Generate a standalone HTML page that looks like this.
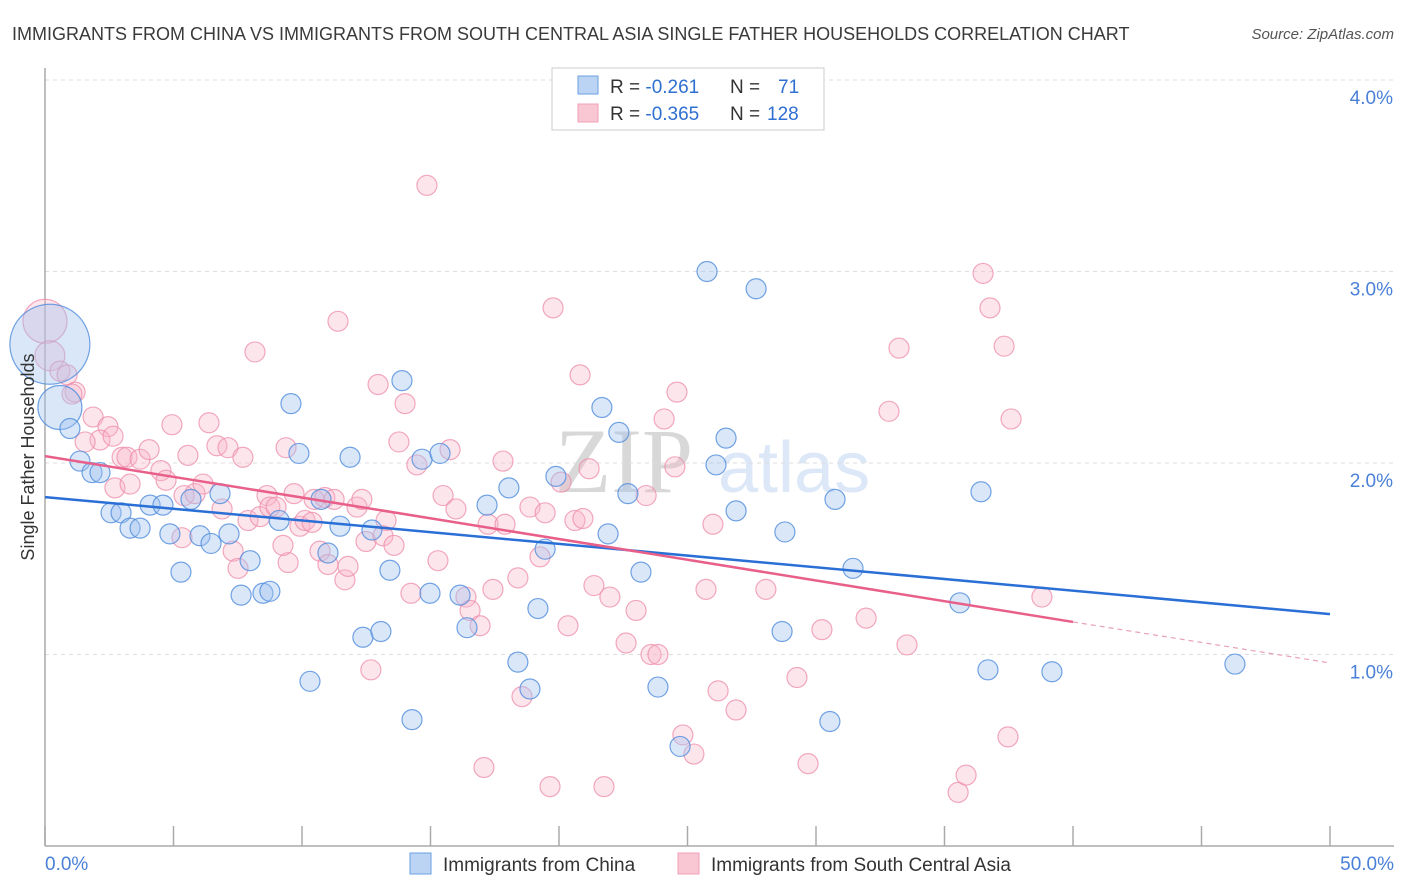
<!DOCTYPE html>
<html><head><meta charset="utf-8"><style>
body{margin:0;background:#fff;font-family:"Liberation Sans",sans-serif;}
svg{display:block}
</style></head><body>
<svg id="chart" width="1406" height="892">
<text x="12" y="40" font-size="18" fill="#3a3a3a">IMMIGRANTS FROM CHINA VS IMMIGRANTS FROM SOUTH CENTRAL ASIA SINGLE FATHER HOUSEHOLDS CORRELATION CHART</text>
<text x="1394" y="39" font-size="15" fill="#555" font-style="italic" text-anchor="end">Source: ZipAtlas.com</text>
<text x="555" y="492" font-size="92" fill="#d8d8d8" font-family="Liberation Serif,serif">ZIP</text>
<text x="718" y="492" font-size="72" fill="#dce8f8">atlas</text>
<g id="grid"></g><g id="axes"></g><g id="pts"></g><g id="lines"></g>
<text transform="translate(34,457) rotate(-90)" font-size="18" fill="#333" text-anchor="middle">Single Father Households</text>
<g>
<rect x="552" y="68" width="272" height="62" fill="#fff" stroke="#ccc"/>
<rect x="578" y="76" width="20" height="18" fill="#bcd4f4" stroke="#6a9fe0"/>
<rect x="578" y="104" width="20" height="18" fill="#f9c6d4" stroke="#f0a0b8"/>
<text x="610" y="93" font-size="19" fill="#333">R = <tspan fill="#2f6fd0">-0.261</tspan><tspan x="730">N = </tspan><tspan x="778" fill="#2f6fd0">71</tspan></text>
<text x="610" y="120" font-size="19" fill="#333">R = <tspan fill="#2f6fd0">-0.365</tspan><tspan x="730">N = </tspan><tspan x="767" fill="#2f6fd0">128</tspan></text>
</g>
<g><rect x="410" y="853" width="21" height="21" fill="#bcd4f4" stroke="#6a9fe0"/><text x="443" y="871" font-size="19" fill="#333">Immigrants from China</text></g>
<g><rect x="678" y="853" width="21" height="21" fill="#f9c6d4" stroke="#f0a0b8"/><text x="711" y="871" font-size="19" fill="#333">Immigrants from South Central Asia</text></g>
</svg>
<script>
const yTicks=[1,2,3,4];
const yTickLabels=["1.0%","2.0%","3.0%","4.0%"];
const xTicks=[0,5,10,15,20,25,30,35,40,45,50];
const xTickLabels=["0.0%","50.0%"];
const chinaX=[0.19,0.58,0.97,1.36,1.83,2.14,2.57,2.96,3.31,3.70,4.09,4.59,4.86,5.29,5.68,6.03,6.46,6.81,7.16,7.63,7.98,8.48,8.75,9.11,9.57,9.88,10.31,10.74,11.01,11.48,11.87,12.37,12.72,13.07,13.42,13.89,14.28,14.67,14.98,15.37,16.15,16.42,17.20,18.05,18.40,18.87,19.18,19.46,19.88,21.67,21.91,22.33,22.68,23.19,23.85,24.71,25.76,26.11,26.50,26.89,27.67,28.68,28.79,30.54,30.74,31.44,35.60,36.42,36.69,39.18,46.30];
const chinaY=[2.62,2.29,2.18,2.01,1.95,1.95,1.74,1.74,1.66,1.66,1.78,1.78,1.63,1.43,1.81,1.62,1.58,1.84,1.63,1.31,1.49,1.32,1.33,1.70,2.31,2.05,0.86,1.81,1.53,1.67,2.03,1.09,1.65,1.12,1.44,2.43,0.66,2.02,1.32,2.05,1.31,1.14,1.78,1.87,0.96,0.82,1.24,1.55,1.93,2.29,1.63,2.16,1.84,1.43,0.83,0.52,3.00,1.99,2.13,1.75,2.91,1.12,1.64,0.65,1.81,1.45,1.27,1.85,0.92,0.91,0.95];
const chinaWeight=[4,2.2];
const scaX=[0,0.19,0.58,0.86,1.17,1.05,1.87,2.45,2.14,1.56,2.65,3.00,3.19,3.70,4.05,2.72,3.31,4.51,4.94,4.71,5.41,5.56,5.33,5.84,6.15,6.38,6.69,6.89,7.12,7.32,7.51,7.70,7.90,8.17,8.37,8.64,8.75,8.99,9.38,9.46,9.26,9.69,9.92,10.12,10.39,10.47,10.70,10.89,11.01,11.25,11.40,11.67,11.79,12.14,12.33,12.49,12.68,12.96,13.15,13.27,13.58,13.77,14.01,14.47,14.24,14.86,15.29,15.49,15.76,15.99,16.38,16.54,16.93,17.08,17.24,17.43,17.82,17.90,18.40,18.56,18.87,19.46,19.26,19.65,20.08,19.77,20.35,20.62,20.82,20.93,21.17,21.36,21.75,21.98,22.61,23.00,23.39,23.58,23.85,24.09,24.51,24.59,24.82,25.25,25.72,25.99,26.19,26.89,28.05,29.26,29.69,30.23,31.95,32.84,33.23,33.54,35.53,35.84,36.50,36.77,37.32,37.47,37.59,38.79];
const scaY=[2.74,2.56,2.48,2.46,2.37,2.36,2.24,2.19,2.12,2.11,2.14,2.03,2.03,2.02,2.07,1.87,1.89,1.96,2.20,1.91,1.83,2.04,1.61,1.84,1.89,2.21,2.09,1.76,2.08,1.54,1.45,2.03,1.70,2.58,1.72,1.83,1.77,1.77,2.08,1.48,1.57,1.84,1.67,1.70,1.69,1.81,1.54,1.82,1.47,1.81,2.74,1.39,1.46,1.77,1.81,1.59,0.92,2.41,1.62,1.70,1.57,2.11,2.31,1.99,1.32,3.45,1.49,1.83,2.07,1.76,1.30,1.23,1.15,0.41,1.68,1.34,2.01,1.68,1.40,0.78,1.77,1.74,1.51,0.31,1.90,2.81,1.15,1.70,2.46,1.71,1.97,1.36,0.31,1.30,1.06,1.23,1.83,1.00,1.00,2.23,1.98,2.37,0.58,0.48,1.34,1.68,0.81,0.71,1.34,0.88,0.43,1.13,1.19,2.27,2.60,1.05,0.28,0.37,2.99,2.81,2.61,0.57,2.23,1.30];
const scaWeight=[2.2,1.5];
const chinaTrend=[1.822,1.211];
const scaTrend=[2.036,1.170,0.956];
const scaTrendSolidEnd=40;

const NS="http://www.w3.org/2000/svg";
const X0=45,X1=1330,Y0=846,YPER=191.5;
const xs=v=>X0+(X1-X0)*v/50;
const ys=v=>Y0-v*YPER;
function mk(tag,attrs,parent){const e=document.createElementNS(NS,tag);for(const k in attrs)e.setAttribute(k,attrs[k]);parent.appendChild(e);return e;}
const grid=document.getElementById('grid'),axes=document.getElementById('axes'),pts=document.getElementById('pts'),lines=document.getElementById('lines');
const gl=mk('line',{x1:X0,x2:1394,y1:80,y2:80,stroke:'#ddd','stroke-dasharray':'4,4'},grid);


yTicks.forEach((t,i)=>{
 const l=mk('line',{x1:X0,x2:1394,y1:ys(t),y2:ys(t),stroke:'#ddd','stroke-dasharray':'4,4'},grid);
 
 
 const tx=mk('text',{x:1393,y:ys(t)+24,'font-size':19,fill:'#4a80d8','text-anchor':'end'},axes);
 tx.textContent=yTickLabels[i];
 
 
});
const ax=mk('line',{x1:X0,x2:X0,y1:68,y2:Y0,stroke:'#aaa','stroke-width':1.5},axes);


const bx=mk('line',{x1:X0,x2:1394,y1:Y0,y2:Y0,stroke:'#aaa','stroke-width':1.5},axes);


xTicks.forEach(t=>{
 const l=mk('line',{x1:xs(t),x2:xs(t),y1:826,y2:Y0,stroke:'#aaa','stroke-width':1.5},axes);
 
 
});
const xl0=mk('text',{x:45,y:870,'font-size':19,fill:'#4a80d8'},axes);xl0.textContent=xTickLabels[0];


const xl1=mk('text',{x:1394,y:870,'font-size':19,fill:'#4a80d8','text-anchor':'end'},axes);xl1.textContent=xTickLabels[1];


function plot(X,Y,W,fill,stroke,name){
 X.forEach((v,i)=>{
  const r=10*(W[i]||1);
  const c=mk('circle',{cx:xs(v),cy:ys(Y[i]),r:r,fill:fill,stroke:stroke,'stroke-width':1.2},pts);
  
  
 });
}
plot(scaX,scaY,scaWeight,'rgba(248,180,200,0.35)','rgba(236,140,170,0.75)','point-south-central-asia');
plot(chinaX,chinaY,chinaWeight,'rgba(160,195,240,0.4)','rgba(80,140,220,0.8)','point-china');
const bl=mk('line',{x1:xs(0),y1:ys(chinaTrend[0]),x2:xs(50),y2:ys(chinaTrend[1]),stroke:'#2a6fd6','stroke-width':2.5},lines);


const pl=mk('line',{x1:xs(0),y1:ys(scaTrend[0]),x2:xs(scaTrendSolidEnd),y2:ys(scaTrend[1]),stroke:'#e8608a','stroke-width':2.5},lines);


const pd=mk('line',{x1:xs(scaTrendSolidEnd),y1:ys(scaTrend[1]),x2:xs(50),y2:ys(scaTrend[2]),stroke:'#e8a0b8','stroke-width':1.2,'stroke-dasharray':'5,4'},lines);


</script>
</body></html>
